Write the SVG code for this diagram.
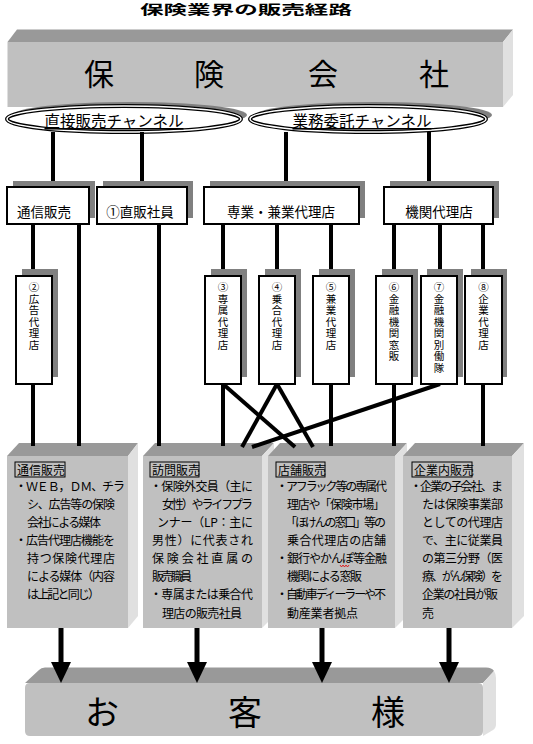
<svg xmlns="http://www.w3.org/2000/svg" width="533" height="744" viewBox="0 0 533 744">
<defs>
<style>
.t{font-family:"Noto Sans CJK JP","Liberation Sans",sans-serif;fill:#000}
.front{fill:#c0c0c0}
.top{fill:#999999}
.side{fill:#e0e0e0}
.shadow{fill:#808080}
.box{fill:#fff;stroke:#000;stroke-width:2}
.lbl{font-size:13.5px;text-anchor:middle}
.vt{font-size:10.5px;text-anchor:middle}
.body{font-size:12px}
.hdr{fill:none;stroke:#000;stroke-width:1}
.conn{stroke:#000;stroke-width:4;fill:none}
.arr{stroke:#000;stroke-width:5;fill:none}
</style>
<marker id="ah" markerUnits="userSpaceOnUse" markerWidth="21" markerHeight="21" viewBox="0 0 21 20" refX="8" refY="10" orient="auto">
<path d="M0,0 L21,10 L0,20 Z" fill="#000"/>
</marker>
</defs>
<rect width="533" height="744" fill="#fff"/>

<text class="t" x="246" y="13.5" font-size="13" font-weight="bold" text-anchor="middle" textLength="212" lengthAdjust="spacingAndGlyphs">保険業界の販売経路</text>

<g id="insurer">
<polygon class="top" points="7.5,42 17,29.5 513,29.5 503,42"/>
<polygon class="side" points="503,42 513,29.5 513,95 503,107"/>
<rect class="front" x="7.5" y="42" width="495.5" height="65"/>
<text class="t" x="99 209 323 434" y="85" font-size="30" text-anchor="middle">保険会社</text>
</g>

<g id="direct-channel">
<ellipse class="shadow" cx="130" cy="115" rx="117" ry="13"/>
<ellipse cx="124" cy="119" rx="117" ry="13" fill="#fff" stroke="#000" stroke-width="4"/>
<ellipse cx="124" cy="119" rx="117" ry="13" fill="none" stroke="#fff" stroke-width="1.5"/>
<text class="t" x="114" y="127" font-size="15.5" text-anchor="middle" text-decoration="underline">直接販売チャンネル</text>
</g>
<g id="agency-channel">
<ellipse class="shadow" cx="374" cy="115" rx="118" ry="13"/>
<ellipse cx="368" cy="119" rx="118" ry="13" fill="#fff" stroke="#000" stroke-width="4"/>
<ellipse cx="368" cy="119" rx="118" ry="13" fill="none" stroke="#fff" stroke-width="1.5"/>
<text class="t" x="362" y="127" font-size="15.5" text-anchor="middle" text-decoration="underline">業務委託チャンネル</text>
</g>

<g id="sales-boxes">
<g id="box-mail"><polygon class="top" points="7,456 19,443 138,443 128,456"/><polygon class="side" points="128,456 138,443 138,616 128,628"/><rect class="front" x="7" y="456" width="121" height="172"/>
<rect class="hdr" x="15" y="462" width="50" height="15"/><text class="t body" x="17" y="474.5">通信販売</text>
<text class="t body" x="15" y="491" textLength="110" lengthAdjust="spacing">・ＷＥＢ，ＤＭ、チラ</text>
<text class="t body" x="27" y="509.1" textLength="88" lengthAdjust="spacing">シ、広告等の保険</text>
<text class="t body" x="27" y="527.1" textLength="74" lengthAdjust="spacing">会社による媒体</text>
<text class="t body" x="15" y="545.2" textLength="100" lengthAdjust="spacing">・広告代理店機能を</text>
<text class="t body" x="27" y="563.3" textLength="88" lengthAdjust="spacing">持つ保険代理店</text>
<text class="t body" x="27" y="581.4" textLength="88" lengthAdjust="spacing">による媒体（内容</text>
<text class="t body" x="27" y="599.4" textLength="73" lengthAdjust="spacing">は上記と同じ）</text>
</g>
<g id="box-visit"><polygon class="top" points="143,456 155,443 274,443 262,456"/><polygon class="side" points="262,456 274,443 274,616 262,628"/><rect class="front" x="143" y="456" width="119" height="172"/>
<rect class="hdr" x="150" y="462" width="49" height="15"/><text class="t body" x="152" y="474.5">訪問販売</text>
<text class="t body" x="150" y="491" textLength="103" lengthAdjust="spacing">・保険外交員（主に</text>
<text class="t body" x="162" y="509.1" textLength="91" lengthAdjust="spacing">女性）やライフプラ</text>
<text class="t body" x="157" y="527.1" textLength="96" lengthAdjust="spacing">ンナー（LP：主に</text>
<text class="t body" x="152" y="545.2" textLength="101" lengthAdjust="spacing">男性）に代表され</text>
<text class="t body" x="152" y="563.3" textLength="101" lengthAdjust="spacing">保険会社直属の</text>
<text class="t body" x="152" y="581.4" textLength="40" lengthAdjust="spacing">販売職員</text>
<text class="t body" x="150" y="599.4" textLength="103" lengthAdjust="spacing">・専属または乗合代</text>
<text class="t body" x="162" y="617.5" textLength="80" lengthAdjust="spacing">理店の販売社員</text>
</g>
<g id="box-store"><polygon class="top" points="268,456 280,443 407,443 395,456"/><polygon class="side" points="395,456 407,443 407,616 395,628"/><rect class="front" x="268" y="456" width="127" height="172"/>
<rect class="hdr" x="276" y="462" width="49" height="15"/><text class="t body" x="278" y="474.5">店舗販売</text>
<text class="t body" x="276" y="491" textLength="111" lengthAdjust="spacing">・アフラック等の専属代</text>
<text class="t body" x="287" y="509.1" textLength="98" lengthAdjust="spacing">理店や「保険市場」</text>
<text class="t body" x="285" y="527.1" textLength="101" lengthAdjust="spacing">「ほけんの窓口」等の</text>
<text class="t body" x="287" y="545.2" textLength="99" lengthAdjust="spacing">乗合代理店の店舗</text>
<text class="t body" x="276" y="563.3" textLength="111" lengthAdjust="spacing">・銀行やかんぽ等金融</text>
<text class="t body" x="287" y="581.4" textLength="75" lengthAdjust="spacing">機関による窓販</text>
<text class="t body" x="276" y="599.4" textLength="110" lengthAdjust="spacing">・自動車ディーラーや不</text>
<text class="t body" x="287" y="617.5" textLength="71" lengthAdjust="spacing">動産業者拠点</text>
<polyline points="340,565 341.5,567 343,565 344.5,567 346,565 347.5,567 349,565" fill="none" stroke="#e00000" stroke-width="0.8"/>
</g>
<g id="box-corporate"><polygon class="top" points="403,456 415,443 524,443 512,456"/><polygon class="side" points="512,456 524,443 524,616 512,628"/><rect class="front" x="403" y="456" width="109" height="172"/>
<rect class="hdr" x="412" y="462" width="60" height="15"/><text class="t body" x="414" y="474.5">企業内販売</text>
<text class="t body" x="410" y="491" textLength="93" lengthAdjust="spacing">・企業の子会社、ま</text>
<text class="t body" x="422" y="509.1" textLength="81" lengthAdjust="spacing">たは保険事業部</text>
<text class="t body" x="422" y="527.1" textLength="81" lengthAdjust="spacing">としての代理店</text>
<text class="t body" x="422" y="545.2" textLength="81" lengthAdjust="spacing">で、主に従業員</text>
<text class="t body" x="422" y="563.3" textLength="81" lengthAdjust="spacing">の第三分野（医</text>
<text class="t body" x="422" y="581.4" textLength="81" lengthAdjust="spacing">療、がん保険）を</text>
<text class="t body" x="422" y="599.4" textLength="76" lengthAdjust="spacing">企業の社員が販</text>
<text class="t body" x="422" y="617.5">売</text>
</g>
</g>

<g id="customer">
<path class="top" d="M25,683 L39,670 Q41,667.5 45,667.5 L486,667.5 Q492,667.5 494,671 L483,683 Z"/>
<path class="side" d="M483,683 L494,671 Q496,674 496,678 L496,724 Q496,728 493,730 L483,736 Z"/>
<path class="front" d="M30,683 L478,683 Q483,683 483,688 L483,731 Q483,736 478,736 L30,736 Q25,736 25,731 L25,688 Q25,683 30,683 Z"/>
<text class="t" x="102 245 388" y="725" font-size="34" text-anchor="middle">お客様</text>
</g>

<g id="connectors">
<line class="conn" x1="53" y1="132" x2="53" y2="187"/>
<line class="conn" x1="142" y1="132" x2="142" y2="187"/>
<line class="conn" x1="286" y1="132" x2="286" y2="187"/>
<line class="conn" x1="429" y1="132" x2="429" y2="187"/>
<line class="conn" x1="33" y1="224" x2="33" y2="276"/>
<line class="conn" x1="33" y1="384" x2="33" y2="446"/>
<line class="conn" x1="79" y1="224" x2="79" y2="446"/>
<line class="conn" x1="159" y1="224" x2="159" y2="446"/>
<line class="conn" x1="223" y1="224" x2="223" y2="276"/>
<line class="conn" x1="223" y1="384" x2="223" y2="446"/>
<line class="conn" x1="277" y1="224" x2="277" y2="276"/>
<line class="conn" x1="331" y1="224" x2="331" y2="276"/>
<line class="conn" x1="331" y1="384" x2="331" y2="446"/>
<line class="conn" x1="394" y1="224" x2="394" y2="276"/>
<line class="conn" x1="394" y1="384" x2="394" y2="446"/>
<line class="conn" x1="440" y1="224" x2="440" y2="276"/>
<line class="conn" x1="483" y1="224" x2="483" y2="276"/>
<line class="conn" x1="483" y1="384" x2="483" y2="446"/>
<line class="conn" x1="223" y1="384" x2="295" y2="447"/>
<line class="conn" x1="277" y1="384" x2="242" y2="447"/>
<line class="conn" x1="277" y1="384" x2="313" y2="447"/>
<line class="conn" x1="440" y1="384" x2="252" y2="447"/>
<line class="arr" x1="61" y1="628" x2="61" y2="670" marker-end="url(#ah)"/>
<line class="arr" x1="197" y1="628" x2="197" y2="670" marker-end="url(#ah)"/>
<line class="arr" x1="322" y1="628" x2="322" y2="670" marker-end="url(#ah)"/>
<line class="arr" x1="449" y1="628" x2="449" y2="670" marker-end="url(#ah)"/>
</g>

<g id="channel-types">
<g id="mail-order"><rect class="shadow" x="13" y="181" width="82" height="37"/><rect class="box" x="7" y="187" width="82" height="37"/><text class="t lbl" x="44" y="217">通信販売</text></g>
<g id="direct-staff"><rect class="shadow" x="103" y="181" width="90" height="37"/><rect class="box" x="97" y="187" width="90" height="37"/><text class="t lbl" x="140" y="217">①直販社員</text></g>
<g id="exclusive-agency"><rect class="shadow" x="210" y="181" width="155" height="37"/><rect class="box" x="204" y="187" width="155" height="37"/><text class="t lbl" x="281" y="217">専業・兼業代理店</text></g>
<g id="institution-agency"><rect class="shadow" x="390" y="181" width="109" height="37"/><rect class="box" x="384" y="187" width="109" height="37"/><text class="t lbl" x="439" y="217">機関代理店</text></g>
</g>

<g id="agents">
<g id="ad-agency"><rect class="shadow" x="22" y="269" width="36" height="108"/><rect class="box" x="16" y="276" width="36" height="108"/><text class="t vt" x="34 34 34 34 34 34" y="291 302.5 314 325.5 337 348.5">②広告代理店</text></g>
<g id="tied-agency"><rect class="shadow" x="211" y="269" width="36" height="108"/><rect class="box" x="205" y="276" width="36" height="108"/><text class="t vt" x="223 223 223 223 223 223" y="291 302.5 314 325.5 337 348.5">③専属代理店</text></g>
<g id="multi-agency"><rect class="shadow" x="265" y="269" width="36" height="108"/><rect class="box" x="259" y="276" width="36" height="108"/><text class="t vt" x="277 277 277 277 277 277" y="291 302.5 314 325.5 337 348.5">④乗合代理店</text></g>
<g id="side-agency"><rect class="shadow" x="319" y="269" width="36" height="108"/><rect class="box" x="313" y="276" width="36" height="108"/><text class="t vt" x="331 331 331 331 331 331" y="291 302.5 314 325.5 337 348.5">⑤兼業代理店</text></g>
<g id="bank-counter"><rect class="shadow" x="382" y="269" width="36" height="108"/><rect class="box" x="376" y="276" width="36" height="108"/><text class="t vt" x="394 394 394 394 394 394 394" y="291 302.5 314 325.5 337 348.5 360">⑥金融機関窓販</text></g>
<g id="bank-unit"><rect class="shadow" x="427" y="269" width="36" height="108"/><rect class="box" x="421" y="276" width="36" height="108"/><text class="t vt" x="439 439 439 439 439 439 439 439" y="291 302.5 314 325.5 337 348.5 360 371.5">⑦金融機関別働隊</text></g>
<g id="corp-agency"><rect class="shadow" x="471" y="269" width="36" height="108"/><rect class="box" x="465" y="276" width="37" height="108"/><text class="t vt" x="483.5 483.5 483.5 483.5 483.5 483.5" y="291 302.5 314 325.5 337 348.5">⑧企業代理店</text></g>
</g>
</svg>
